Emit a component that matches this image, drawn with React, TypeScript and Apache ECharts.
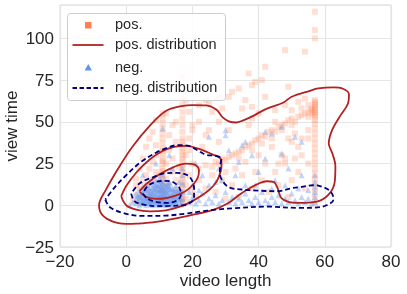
import React, { useEffect, useRef } from "react";
import * as echarts from "echarts";

const xTicks = [-20, 0, 20, 40, 60, 80];
const yTicks = [-25, 0, 25, 50, 75, 100];

const posPoints: number[][] = [
  [11,1],[11,4],[10.8,7],[11,10],[11.2,13],[11,16],[11,19],[10.9,22],[11,25],[11,28],[11.1,31],[11,34],[11,37],[11,40],[11,43],[11,46],[11,49],[11,52],
  [17,1],[17,4],[17,8],[17,12],[17,16],[17,20],[17,24],[17,28],[17,32],[17,36],[17,40],[17,44],[17,48],[17,52],[17,56],[17,60],[17,64],[16.8,69],[16.8,77],
  [17,2.5],[17,6],[17,10],[17,14],[17,18],[17,22],[17,26],[17,30],[17,34],[17,38],[11,2.5],[11,8.5],[11,14.5],[11,20.5],[11,26.5],[11,32.5],
  [57,1],[57,4],[57,7],[57,10],[57,13],[57,16],[57,19],[57,22],[57,25],[57,28],[57,31],[57,34],[57,37],[57,40],[57,43],[57,46],[57,49],[57,51],[57,53],[57,55],[57,57],[57,59],[57,61],[57,63],[57,100],[57,105],[57,116],
  [57,54],[57,56],[57,58],[57,60],[57,62],[56,58],[56,55],[55,53],
  [2,3],[3,6],[4,2],[4,10],[5,5],[5,14],[6,8],[6,18],[7,3],[7,12],[7,22],[8,6],[8,15],[8,26],[9,10],[9,20],[9,30],[10,4],[12,7],[12,16],[12,25],[13,12],[13,33],[14,5],[14,20],[14,28],[15,9],[15,15],[15,38],[16,23],[18,12],[18,30],[19,18],[19,40],[20,8],[20,25],[3,16],[4,22],[5,28],[6,35],[7,40],[8,44],[13,42],[14,48],[9,36],[12,55],[15,50],[19,56],[20,45],[3,12],[10,18],[16,8],[18,4],[19,33],
  [9,51],[11,55],[18,63],[21,67],[24,63],[25,61],[28,65],[31,65],[32,68],[34,70],[37,79],[39,74],[41,75],[42,83],[38,72],[36,63],[38,59],[42,65],[49,71],[48,93],[54,92],[22,60],[26,56],[29,58],[45,57],[48,60],[52,62],[54,64],[50,57],[35,58],[38,52],[40,55],[28,50],[22,50],[24,42],[20,48],
  [22,22],[24,24],[26,23],[27,26],[28,25],[29,28],[30,27],[31,29],[32,30],[33,31],[34,32],[35,33],[36,35],[37,36],[38,37],[39,39],[40,40],[41,42],[42,41],[43,44],[44,45],[45,44],[46,47],[47,48],[48,49],[49,51],[50,52],[51,50],[52,53],[53,54],[54,55],[55,56],[56,57],[44,40],[47,45],[50,48],[53,58],[55,60],[34,28],[38,33],[41,37],
  [21,5],[22,15],[23,35],[24,10],[25,45],[26,18],[27,8],[28,38],[29,15],[30,4],[30,20],[31,45],[32,12],[33,22],[34,5],[35,18],[36,26],[37,48],[38,10],[39,20],[40,30],[41,15],[42,25],[43,8],[44,35],[45,20],[46,12],[47,30],[48,25],[49,5],[50,38],[50,15],[51,28],[52,20],[53,40],[54,10],[55,25],[46,25],[48,28],[52,35],[55,40],[53,30],[55,45],[51,43],[49,40],[45,50]
];

const negPoints: number[][] = [
  [3,1],[3,4],[3,7],[4,0],[4,3],[4,6],[4,9],[5,1],[5,3],[5,6],[5,8],[5,11],[6,0],[6,2],[6,4],[6,6],[6,9],[6,12],[7,1],[7,3],[7,5],[7,7],[7,10],[7,13],[8,0],[8,2],[8,4],[8,6],[8,8],[8,11],[8,14],[9,1],[9,3],[9,5],[9,7],[9,9],[9,12],[9,15],[10,0],[10,2],[10,4],[10,6],[10,8],[10,10],[10,13],[10,16],[11,1],[11,3],[11,5],[11,7],[11,9],[11,11],[11,14],[11,18],[12,0],[12,2],[12,4],[12,6],[12,9],[12,12],[13,1],[13,3],[13,5],[13,8],[13,11],[14,0],[14,2],[14,4],[14,7],[14,10],[15,1],[15,3],[15,6],[16,2],[16,5],[16,9],[17,1],[17,4],[17,8],[17,13],[17,18],[17,22],[2,2],[1,0],[15,10],[13,14],[16,14],
  [4.5,1.5],[5.5,4.5],[6.5,7.5],[7.5,2.5],[8.5,5.5],[9.5,8.5],[10.5,3.5],[11.5,6.5],[12.5,9.5],[13.5,2.5],[14.5,5.5],[15.5,8.5],[6.5,10.5],[8.5,12.5],[10.5,11.5],[12.5,13.5],[9.5,0.5],[11.5,0.5],[7.5,0.5],[13.5,0.5],[5.5,9.5],[16.5,0.5],
  [4.5,4.5],[5.5,1.5],[6.5,4.5],[7.5,5.5],[7.5,8.5],[8.5,2.5],[8.5,9.5],[9.5,3.5],[9.5,5.5],[9.5,11.5],[10.5,6.5],[10.5,9.5],[11.5,2.5],[11.5,8.5],[11.5,12.5],[12.5,3.5],[12.5,6.5],[13.5,5.5],[13.5,9.5],[14.5,2.5],[14.5,8.5],[15.5,4.5],[16.5,3.5],[16.5,7.5],[3.5,2.5],[3.5,5.5],[4.5,7.5],[6.5,1.5],[10.5,14.5],[12.5,11.5],
  [5,2],[6,5],[7,2],[7,9],[8,3],[8,7],[9,2],[9,6],[9,10],[10,1],[10,5],[10,9],[10,12],[11,2],[11,6],[11,10],[11,13],[12,1],[12,5],[12,8],[12,11],[13,2],[13,6],[13,10],[14,3],[14,6],[14,9],[15,2],[15,5],[15,8],[16,4],[16,7],[6,3],[7,6],[8,10],[9,13],[5,7],[4,5],[13,13],[15,12],
  [19,2],[20,5],[21,1],[22,3],[23,7],[24,1],[25,4],[26,2],[27,6],[28,1],[29,3],[30,8],[31,2],[32,5],[33,1],[34,4],[35,2],[36,7],[37,3],[38,1],[39,5],[40,2],[41,8],[42,3],[43,1],[44,5],[45,2],[46,6],[47,1],[48,4],[49,2],[50,7],[51,3],[52,1],[53,5],[54,2],[55,4],[56,1],[57,2],[57,5],[57,8],[57,11],[57,14],[57,18],
  [25,12],[29,15],[33,18],[36,12],[40,20],[45,15],[49,22],[53,18],[38,30],[42,28],[21,25],[23,18],[11,46],[25,41],[30,42],[42,44],[44,43],[47,47],[47,31],[51,41],[53,38],[34,26],[36,38],[31,33],[28,22],[20,12],[19,8],[22,9],[44,10],[48,12],[52,10],[55,9],[39,12],[27,14],[30,45],[35,36],[14,22],[13,30],[9,25],[5,18]
];

const posOuter: number[][] = [
  [0,-11.2],[3,-11],[8,-10.2],[13,-8.6],[19,-6.2],[26.3,-2.8],[31,1.5],[34.3,6.5],[37.5,10.5],[40,13],[42.4,14.4],[44.5,14],[45.8,10],[46.8,4.5],[49,2],[52,1.4],[57.6,2.2],[61.2,6.5],[63,14],[63.2,23.4],[62.3,31],[61.2,37],[62.2,45],[64.6,53.4],[67,61],[67.3,66.5],[65.5,69.8],[62.6,70.6],[58,70],[55.5,68.6],[50,65],[47.5,61.6],[42,57.5],[38.4,53.6],[35,50.6],[33.3,49.6],[31,50.3],[29,53],[27.3,57.2],[24.2,59.8],[20,60],[17.2,59.6],[12.1,56.6],[7.1,47.6],[2,35.4],[-2,23.4],[-6.1,9.4],[-8.2,0],[-7.3,-5.6],[-4,-9.8],[0,-11.2]
];
const posMid: number[][] = [
  [-1.5,5.4],[0,0],[3,-2.6],[7.1,-3.6],[12,-3],[16,-1],[20,2.5],[24,7.5],[26.5,12],[28,17],[28.8,24],[28.5,28],[26,30.5],[22,33.8],[18,35.6],[14.5,35],[11,32.5],[7.1,27.4],[3,19.5],[0,11.5],[-1.5,5.4]
];
const posInner: number[][] = [
  [4,8.4],[6,5],[9,3.8],[12.5,4.5],[16,6.5],[19,10],[21.5,16],[22,21],[20.5,24.5],[18,25],[14.5,23],[10,18.5],[6.5,13.5],[4,8.4]
];
const negOuter: number[][] = [
  [-6.3,3.4],[-5,-1],[-1,-4.6],[5,-6.4],[12,-6.2],[18,-5],[22.2,-3.8],[27,-2.6],[32.3,-1.8],[42.4,-0.8],[52.5,-1.6],[57,-1.4],[60.5,0],[62.6,3.4],[62.3,6.5],[61,9.4],[58.5,11.5],[56.5,12],[53,11],[50.5,10.4],[45.5,8.4],[40,8.8],[35.3,9.4],[31.3,10.6],[29.3,14],[28.3,19],[28.4,24],[28.8,28],[27,29.6],[24,30.3],[21.5,33],[18.5,35.8],[15.5,36],[12.5,34.5],[9,31.5],[4.5,26],[0,18],[-3.8,10],[-6.3,3.4]
];
const negMid: number[][] = [
  [1.5,7],[2.5,2.5],[5,0.5],[9,-0.5],[13,-0.4],[18,0.3],[20.5,4.5],[20.5,10],[20,14.5],[18.5,18],[15.5,19.4],[12,19.2],[8,16.8],[4,13],[1.5,7]
];
const negInner: number[][] = [
  [5,7],[6.5,3.8],[9,2],[12,1.4],[15,2.6],[16.5,6],[16.2,10],[14.5,13.5],[12,14.6],[9,14],[6.5,11.5],[5,7]
];

const legendLabels = ["pos.", "pos. distribution", "neg.", "neg. distribution"];

const FONT = "Liberation Sans";
const POS_COLOR = "#FF7F50";
const NEG_COLOR = "#6495ED";
const POS_LINE = "#B22222";
const NEG_LINE = "#000080";

const fmt = (v: number) => (v < 0 ? "\u2212" + Math.abs(v) : String(v));

export default function App() {
  const ref = useRef<HTMLDivElement>(null);
  useEffect(() => {
    if (!ref.current) return;
    const chart = echarts.init(ref.current, undefined, { renderer: "svg" });
    const contour = (data: number[][], color: string, dashed: boolean) => ({
      type: "line",
      data,
      smooth: 0.35,
      symbol: "none",
      showSymbol: false,
      z: 4,
      lineStyle: { color, width: 1.8, type: dashed ? [5, 3] : "solid" },
      silent: true,
    });
    const rowY = [25, 45, 67.5, 88];
    chart.setOption({
      animation: false,
      textStyle: { fontFamily: FONT },
      grid: {
        left: 60, right: 16, top: 5, bottom: 47, show: true, borderColor: "#d9d9d9", borderWidth: 1,
        containLabel: false, outerBoundsMode: "none",
      },
      xAxis: {
        type: "value",
        min: xTicks[0],
        max: xTicks[xTicks.length - 1],
        interval: 20,
        name: "video length",
        nameLocation: "middle",
        nameGap: 25,
        nameMoveOverlap: false,
        nameTextStyle: { fontSize: 17, color: "#262626", fontFamily: FONT, lineHeight: 17 },
        axisLine: { show: false },
        axisTick: { show: false },
        axisLabel: { fontSize: 17, color: "#262626", margin: 6, fontFamily: FONT, lineHeight: 17, formatter: fmt },
        splitLine: { lineStyle: { color: "#e5e5e5", width: 1.2 } },
      },
      yAxis: {
        type: "value",
        min: yTicks[0],
        max: 120,
        interval: 25,
        name: "view time",
        nameLocation: "middle",
        nameGap: 40,
        nameMoveOverlap: false,
        nameTextStyle: { fontSize: 17, color: "#262626", fontFamily: FONT },
        axisLine: { show: false },
        axisTick: { show: false },
        axisLabel: {
          fontSize: 17, color: "#262626", margin: 6, fontFamily: FONT, showMaxLabel: false,
          formatter: (v: number) => (yTicks.indexOf(v) >= 0 ? fmt(v) : ""),
        },
        splitLine: { lineStyle: { color: "#e5e5e5", width: 1.2 } },
      },
      series: [
        { type: "scatter", data: posPoints, symbol: "rect", symbolSize: 6, itemStyle: { color: POS_COLOR, opacity: 0.25 }, z: 2, silent: true },
        { type: "scatter", data: negPoints, symbol: "triangle", symbolSize: 6, itemStyle: { color: NEG_COLOR, opacity: 0.4 }, z: 3, silent: true },
        contour(posOuter, POS_LINE, false),
        contour(posMid, POS_LINE, false),
        contour(posInner, POS_LINE, false),
        contour(negOuter, NEG_LINE, true),
        contour(negMid, NEG_LINE, true),
        contour(negInner, NEG_LINE, true),
      ],
      graphic: [
        { type: "rect", z: 100, shape: { x: 67.5, y: 13.5, width: 158, height: 87, r: 3 }, style: { fill: "rgba(255,255,255,0.85)", stroke: "#cccccc", lineWidth: 1 } },
        { type: "rect", z: 101, shape: { x: 85, y: rowY[0] - 3, width: 6.5, height: 6.5 }, style: { fill: POS_COLOR } },
        { type: "line", z: 101, shape: { x1: 72.5, y1: rowY[1], x2: 103.5, y2: rowY[1] }, style: { stroke: POS_LINE, lineWidth: 1.8 } },
        { type: "polygon", z: 101, shape: { points: [[88.3, rowY[2] - 3.5], [84.5, rowY[2] + 3], [92, rowY[2] + 3]] }, style: { fill: NEG_COLOR } },
        { type: "line", z: 101, shape: { x1: 72.5, y1: rowY[3], x2: 103.5, y2: rowY[3] }, style: { stroke: NEG_LINE, lineWidth: 1.8, lineDash: [4.5, 2.5] } },
        ...legendLabels.map((t, i) => ({
          type: "text",
          z: 101,
          left: 115,
          top: rowY[i] - 8.5,
          style: { text: t, fill: "#262626", fontSize: 14.5, fontFamily: FONT, align: "left" },
        })),
      ],
    });
    return () => chart.dispose();
  }, []);
  return <div ref={ref} style={{ position: "fixed", left: 0, top: 0, width: 407, height: 294 }} />;
}
